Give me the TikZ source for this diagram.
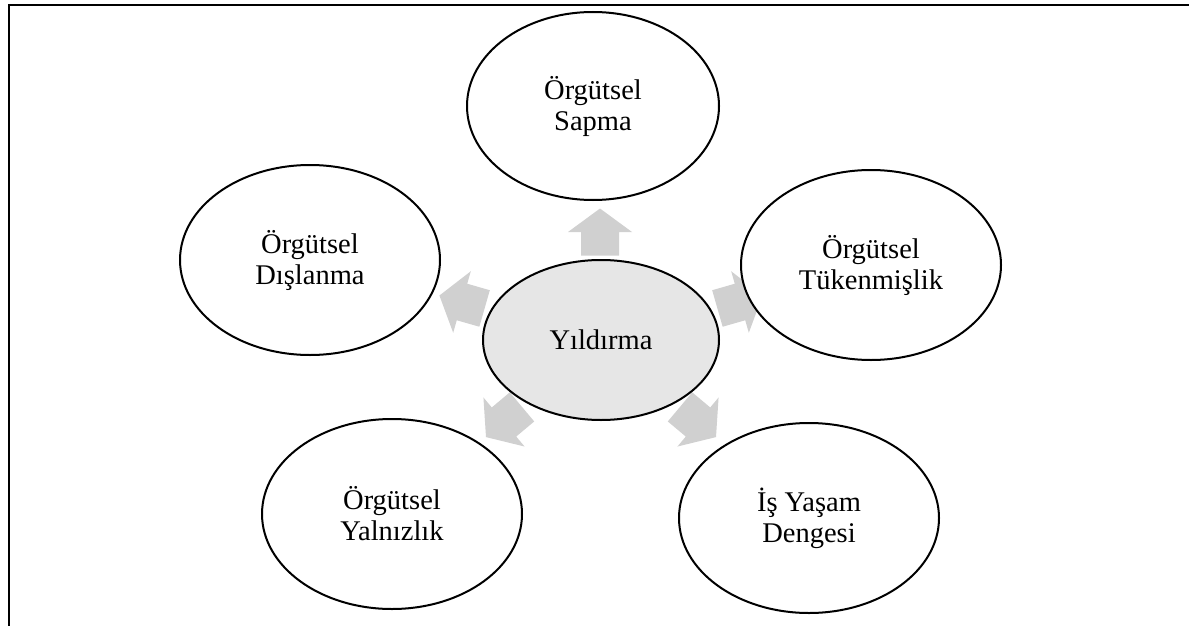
\documentclass[tikz,border=0pt]{standalone}
\usepackage{fontspec}
\setmainfont{Liberation Serif}
\usetikzlibrary{shapes.geometric}
\definecolor{arrowgray}{RGB}{208,208,208}
\definecolor{hubgray}{RGB}{230,230,230}
\begin{document}
\begin{tikzpicture}[x=1pt,y=-1pt,
  bubble/.style={ellipse, draw=black, line width=2pt, fill=white, inner sep=0pt,
    align=center, font=\fontsize{28.5}{31}\selectfont,
    minimum width=260pt, minimum height=190pt},
  hub/.style={bubble, fill=hubgray, minimum width=236pt, minimum height=160pt},
  blockarrow/.pic={\fill[arrowgray] (-23.5,-19) -- (0,-19) -- (0,-32) -- (23.5,0)
    -- (0,32) -- (0,19) -- (-23.5,19) -- cycle;}
]
\useasboundingbox (0,0) rectangle (1189,626);

% open frame: left and top rules
\coordinate (fbl) at (9,626);
\coordinate (ftl) at (9,5);
\coordinate (ftr) at (1189,5);
\draw[line width=1.7pt] (fbl) -- (ftl) -- (ftr);

% block arrows radiating from the hub (drawn first, bubbles cover their ends)
\pic[rotate=90]  at (600,232) {blockarrow};
\pic[rotate=164] at (462,302) {blockarrow};
\pic[rotate=16]  at (740,302) {blockarrow};
\pic[rotate=220] at (504,422) {blockarrow};
\pic[rotate=320] at (698,422) {blockarrow};

% outer bubbles
\node[bubble, minimum width=252pt, minimum height=188pt] (sapma) at (593,106) {Örgütsel\\Sapma};
\node[bubble] (dislanma) at (310,260) {Örgütsel\\Dışlanma};
\node[bubble] (tukenmislik) at (871,265) {Örgütsel\\Tükenmişlik};
\node[bubble] (yalnizlik) at (392,514) {Örgütsel\\Yalnızlık};
\node[bubble] (denge) at (809,518) {İş Yaşam\\Dengesi};

% hub
\node[hub] (yildirma) at (601,340) {Yıldırma};
\end{tikzpicture}
\end{document}
